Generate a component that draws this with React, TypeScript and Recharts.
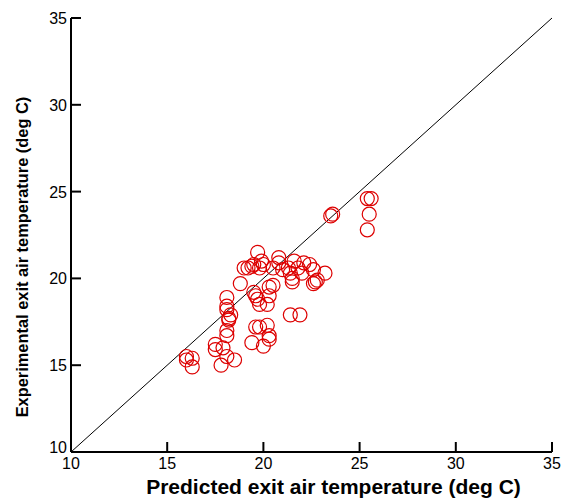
import React from 'react';
import { ScatterChart, Scatter, XAxis, YAxis, ReferenceLine, Label } from 'recharts';

const predicted = [
  16.0, 16.0, 16.3, 16.3, 17.5, 17.5, 17.9, 17.8, 18.1, 18.5,
  18.1, 18.1, 18.2, 18.3, 18.2, 18.1, 18.1, 18.1, 18.8, 19.0,
  19.2, 19.4, 19.5, 19.7, 19.8, 19.9, 20.0, 19.5, 19.6, 19.7,
  19.8, 19.6, 19.8, 20.2, 19.4, 20.0, 20.3, 20.3, 20.2, 20.3,
  20.3, 20.5, 20.5, 20.8, 20.8, 21.0, 21.3, 21.4, 21.6, 21.8,
  22.1, 22.4, 21.5, 21.5, 22.0, 22.6, 22.6, 22.8, 22.7, 23.2,
  21.4, 21.9, 23.5, 23.6, 25.4, 25.6, 25.5, 25.4,
];

const experimental = [
  15.3, 15.5, 15.4, 14.9, 16.2, 15.9, 16.0, 15.0, 15.5, 15.3,
  16.7, 17.0, 17.7, 17.9, 17.6, 18.2, 18.4, 18.9, 19.7, 20.6,
  20.6, 20.7, 20.8, 21.5, 20.6, 21.0, 20.8, 19.2, 19.0, 18.8,
  18.5, 17.2, 17.2, 17.3, 16.3, 16.1, 16.5, 16.7, 18.5, 19.0,
  19.5, 19.6, 20.6, 21.2, 20.9, 20.5, 20.6, 20.3, 21.0, 20.6,
  20.9, 20.8, 19.8, 20.0, 20.3, 20.5, 19.7, 19.9, 19.8, 20.3,
  17.9, 17.9, 23.6, 23.7, 24.6, 24.6, 23.7, 22.8,
];

const majorTicks = [10, 15, 20, 25, 30, 35];
const minorTicks = [11, 12, 13, 14, 16, 17, 18, 19, 21, 22, 23, 24, 26, 27, 28, 29, 31, 32, 33, 34];

const data = predicted.map((x, i) => ({ x, y: experimental[i] }));

const font = '"Liberation Sans", Arial, sans-serif';

// native tick lines point inward (negative tickSize); labels are placed back outside
const XLabel = (props: any) => {
  const { x, y, payload } = props;
  return (
    <text x={x} y={y + 10 + 17} textAnchor="middle" fontSize={16} fontFamily={font} fill="#000">
      {payload.value}
    </text>
  );
};

const YLabel = (props: any) => {
  const { x, y, payload } = props;
  return (
    <text x={x - 10 - 4} y={payload.value === 10 ? y + 1 : y + 6} textAnchor="end" fontSize={16} fontFamily={font} fill="#000">
      {payload.value}
    </text>
  );
};

const Ring = (props: any) => (
  <circle cx={props.cx} cy={props.cy} r={7} fill="none" stroke="#dd0000" strokeWidth={1.2} />
);

const XTitle = (props: any) => {
  const vb = props.viewBox;
  return (
    <text x={vb.x + vb.width / 2 + 22} y={vb.y + vb.height - 4} textAnchor="middle" fontSize={21} fontWeight="bold" fontFamily={font} fill="#000">
      Predicted exit air temperature (deg C)
    </text>
  );
};

const YTitle = (props: any) => {
  const vb = props.viewBox;
  const cx = vb.x + 22;
  const cy = vb.y + vb.height / 2 + 22;
  return (
    <text x={cx} y={cy} transform={`rotate(-90 ${cx} ${cy})`} dy={6} textAnchor="middle" fontSize={16.4} fontWeight="bold" fontFamily={font} fill="#000">
      Experimental exit air temperature (deg C)
    </text>
  );
};

const axisLine = { stroke: '#000', strokeWidth: 2 };
const tickLine = { stroke: '#000', strokeWidth: 2 };

const App = () => {
  return (
    <div style={{ position: 'absolute', left: 0, top: 0, background: '#fff' }}>
      <ScatterChart width={564} height={498} margin={{ top: 18, right: 12, bottom: 0, left: 0 }}>
        {/* minor ticks: zero-size axes sitting right on the plot edge */}
        <XAxis
          xAxisId={0}
          type="number"
          domain={[10, 35]}
          ticks={minorTicks}
          interval={0}
          height={0}
          tickSize={-5}
          tickLine={tickLine}
          tick={false}
          axisLine={false}
        />
        <XAxis
          xAxisId="main"
          type="number"
          dataKey="x"
          domain={[10, 35]}
          ticks={majorTicks}
          interval={0}
          height={46}
          tickSize={-10}
          tickMargin={0}
          tickLine={tickLine}
          tick={<XLabel />}
          axisLine={axisLine}
        >
          <Label content={<XTitle />} />
        </XAxis>
        <XAxis xAxisId="top" orientation="top" type="number" domain={[10, 35]} height={0} tick={false} tickLine={false} axisLine={axisLine} />
        <YAxis
          yAxisId={0}
          type="number"
          domain={[10, 35]}
          ticks={minorTicks}
          interval={0}
          width={0}
          tickSize={-5}
          tickLine={tickLine}
          tick={false}
          axisLine={false}
        />
        <YAxis
          yAxisId="main"
          type="number"
          dataKey="y"
          domain={[10, 35]}
          ticks={majorTicks}
          interval={0}
          width={71}
          tickSize={-10}
          tickMargin={0}
          tickLine={tickLine}
          tick={<YLabel />}
          axisLine={axisLine}
        >
          <Label content={<YTitle />} />
        </YAxis>
        <YAxis yAxisId="right" orientation="right" type="number" domain={[10, 35]} width={0} tick={false} tickLine={false} axisLine={axisLine} />
        <ReferenceLine
          xAxisId="main"
          yAxisId="main"
          segment={[{ x: 10, y: 10 }, { x: 35, y: 35 }]}
          stroke="#000"
          strokeWidth={1}
        />
        <Scatter xAxisId="main" yAxisId="main" data={data} shape={<Ring />} isAnimationActive={false} />
      </ScatterChart>
    </div>
  );
};

export default App;
